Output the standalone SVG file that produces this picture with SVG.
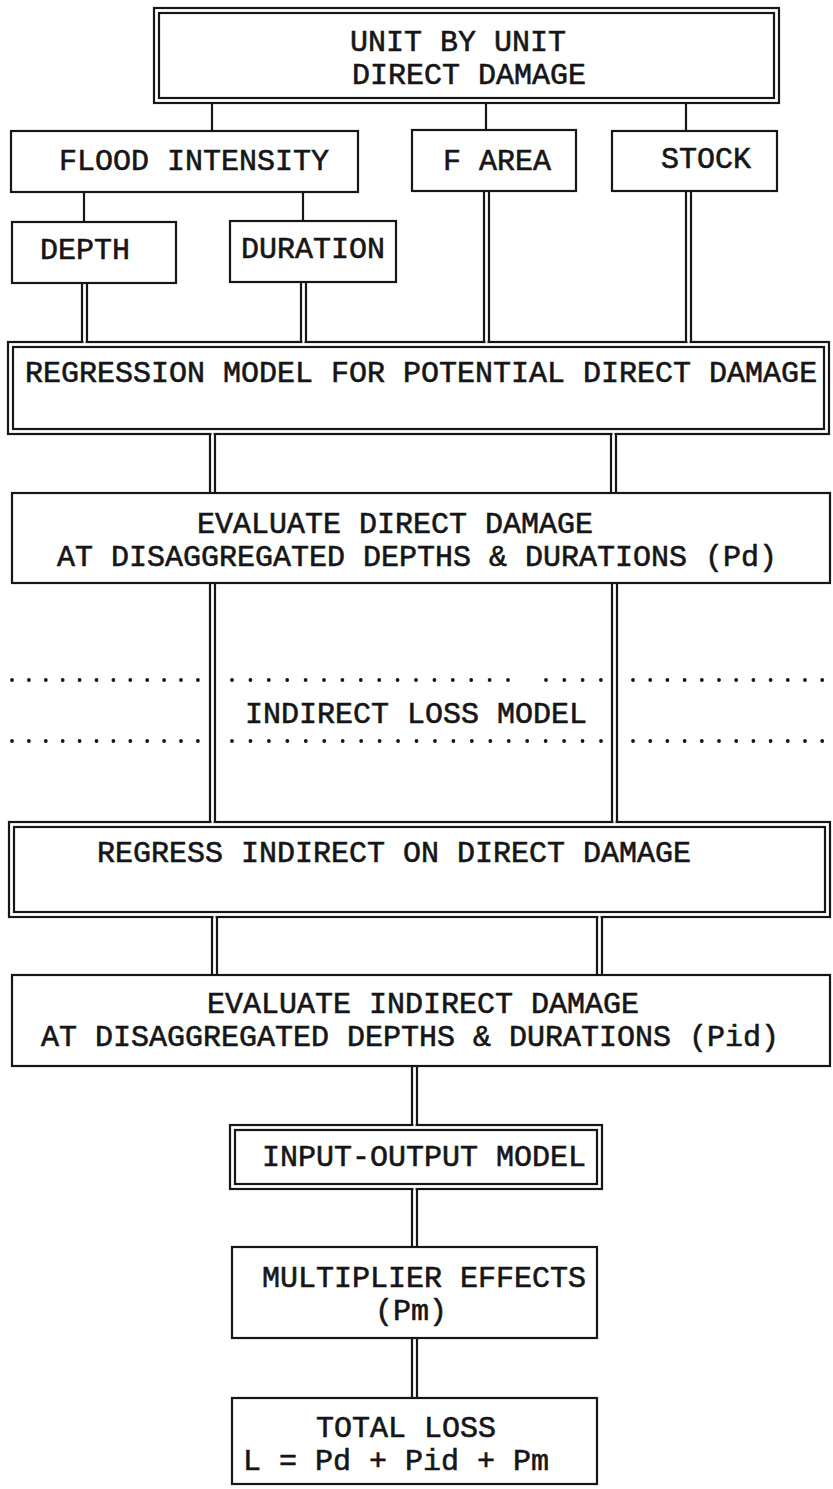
<svg xmlns="http://www.w3.org/2000/svg" width="833" height="1489" viewBox="0 0 833 1489">
  <style>
    .box { fill: #fff; stroke: #161616; stroke-width: 2.2; }
    .inner { fill: none; stroke: #161616; stroke-width: 2.2; }
    .ln { fill: none; stroke: #161616; stroke-width: 2.2; }
    .gap { stroke: #fff; stroke-width: 3.4; }
    .dots { fill: none; stroke: #161616; stroke-width: 3.8; stroke-linecap: round; }
    .t { font-family: "Liberation Mono", "DejaVu Sans Mono", monospace; font-size: 30px; fill: #161616; stroke: #161616; stroke-width: 0.6; }
  </style>
  <rect width="833" height="1489" fill="#fff"/>

  <!-- connectors -->
  <g id="connectors">
    <!-- single lines from the top box and flood intensity -->
    <line class="ln" x1="212" y1="103" x2="212" y2="131"/>
    <line class="ln" x1="486" y1="103" x2="486" y2="130"/>
    <line class="ln" x1="686" y1="103" x2="686" y2="131"/>
    <line class="ln" x1="84" y1="192" x2="84" y2="222"/>
    <line class="ln" x1="303" y1="192" x2="303" y2="221"/>
    <!-- double lines into the regression model -->
    <path class="ln" d="M82,283 V342 M87,283 V342"/>
    <path class="ln" d="M301,282 V342 M306,282 V342"/>
    <path class="ln" d="M484,191 V342 M489,191 V342"/>
    <path class="ln" d="M686,191 V342 M691,191 V342"/>
    <!-- regression model to evaluate direct damage -->
    <path class="ln" d="M210,434 V493 M215,434 V493"/>
    <path class="ln" d="M611,434 V493 M616,434 V493"/>
    <!-- evaluate direct damage to regress indirect -->
    <path class="ln" d="M210,583 V822 M215,583 V822"/>
    <path class="ln" d="M612,583 V822 M617,583 V822"/>
    <!-- regress indirect to evaluate indirect -->
    <path class="ln" d="M212,917 V975 M217,917 V975"/>
    <path class="ln" d="M597,917 V975 M602,917 V975"/>
    <!-- central spine -->
    <path class="ln" d="M412,1066 V1125 M417,1066 V1125"/>
    <path class="ln" d="M412,1189 V1247 M417,1189 V1247"/>
    <path class="ln" d="M412,1338 V1398 M417,1338 V1398"/>
  </g>

  <!-- node: unit by unit direct damage -->
  <g id="unit-direct-damage">
    <rect class="box" x="154" y="8" width="625" height="95"/>
    <rect class="inner" x="159" y="13" width="615" height="85"/>
    <text class="t" x="350" y="51">UNIT BY UNIT</text>
    <text class="t" x="352" y="84">DIRECT DAMAGE</text>
  </g>

  <g id="flood-intensity">
    <rect class="box" x="11" y="131" width="347" height="61"/>
    <text class="t" x="59" y="170">FLOOD INTENSITY</text>
  </g>

  <g id="f-area">
    <rect class="box" x="412" y="130" width="164" height="61"/>
    <text class="t" x="443" y="170">F AREA</text>
  </g>

  <g id="stock">
    <rect class="box" x="612" y="131" width="165" height="60"/>
    <text class="t" x="661" y="168">STOCK</text>
  </g>

  <g id="depth">
    <rect class="box" x="12" y="222" width="164" height="61"/>
    <text class="t" x="40" y="259">DEPTH</text>
  </g>

  <g id="duration">
    <rect class="box" x="230" y="221" width="166" height="61"/>
    <text class="t" x="241" y="258">DURATION</text>
  </g>

  <g id="regression-model">
    <rect class="box" x="8" y="342" width="821" height="92"/>
    <rect class="inner" x="13" y="347" width="811" height="82"/>
    <path class="gap" d="M83.5,342 H85.5 M302.5,342 H304.5 M485.5,342 H487.5 M687.5,342 H689.5 M211.5,434 H213.5 M612.5,434 H614.5"/>
    <text class="t" x="25" y="382">REGRESSION MODEL FOR POTENTIAL DIRECT DAMAGE</text>
  </g>

  <g id="evaluate-direct">
    <rect class="box" x="12" y="493" width="818" height="90"/>
    <text class="t" x="197" y="533">EVALUATE DIRECT DAMAGE</text>
    <text class="t" x="57" y="566">AT DISAGGREGATED DEPTHS &amp; DURATIONS (Pd)</text>
  </g>

  <g id="indirect-loss-model">
    <path class="dots" stroke-dasharray="0 16.9" d="M12,680 H199"/>
    <path class="dots" stroke-dasharray="0 18.4" d="M232,680 H509"/>
    <path class="dots" stroke-dasharray="0 18.3" d="M546,680 H602"/>
    <path class="dots" stroke-dasharray="0 17.2" d="M633,680 H833"/>
    <path class="dots" stroke-dasharray="0 16.9" d="M12,741 H199"/>
    <path class="dots" stroke-dasharray="0 18.45" d="M232,741 H602"/>
    <path class="dots" stroke-dasharray="0 17.2" d="M633,741 H833"/>
    <text class="t" x="245" y="723">INDIRECT LOSS MODEL</text>
  </g>

  <g id="regress-indirect">
    <rect class="box" x="9" y="822" width="821" height="95"/>
    <rect class="inner" x="14" y="827" width="811" height="85"/>
    <path class="gap" d="M211.5,822 H213.5 M613.5,822 H615.5 M213.5,917 H215.5 M598.5,917 H600.5"/>
    <text class="t" x="97" y="862">REGRESS INDIRECT ON DIRECT DAMAGE</text>
  </g>

  <g id="evaluate-indirect">
    <rect class="box" x="12" y="975" width="818" height="91"/>
    <text class="t" x="207" y="1013">EVALUATE INDIRECT DAMAGE</text>
    <text class="t" x="41" y="1046">AT DISAGGREGATED DEPTHS &amp; DURATIONS (Pid)</text>
  </g>

  <g id="input-output-model">
    <rect class="box" x="230" y="1125" width="372" height="64"/>
    <rect class="inner" x="235" y="1130" width="362" height="54"/>
    <path class="gap" d="M413.5,1125 H415.5 M413.5,1189 H415.5"/>
    <text class="t" x="262" y="1166">INPUT-OUTPUT MODEL</text>
  </g>

  <g id="multiplier-effects">
    <rect class="box" x="232" y="1247" width="365" height="91"/>
    <text class="t" x="262" y="1287">MULTIPLIER EFFECTS</text>
    <text class="t" x="375" y="1320">(Pm)</text>
  </g>

  <g id="total-loss">
    <rect class="box" x="232" y="1398" width="365" height="86"/>
    <text class="t" x="316" y="1437">TOTAL LOSS</text>
    <text class="t" x="243" y="1470">L = Pd + Pid + Pm</text>
  </g>
</svg>
